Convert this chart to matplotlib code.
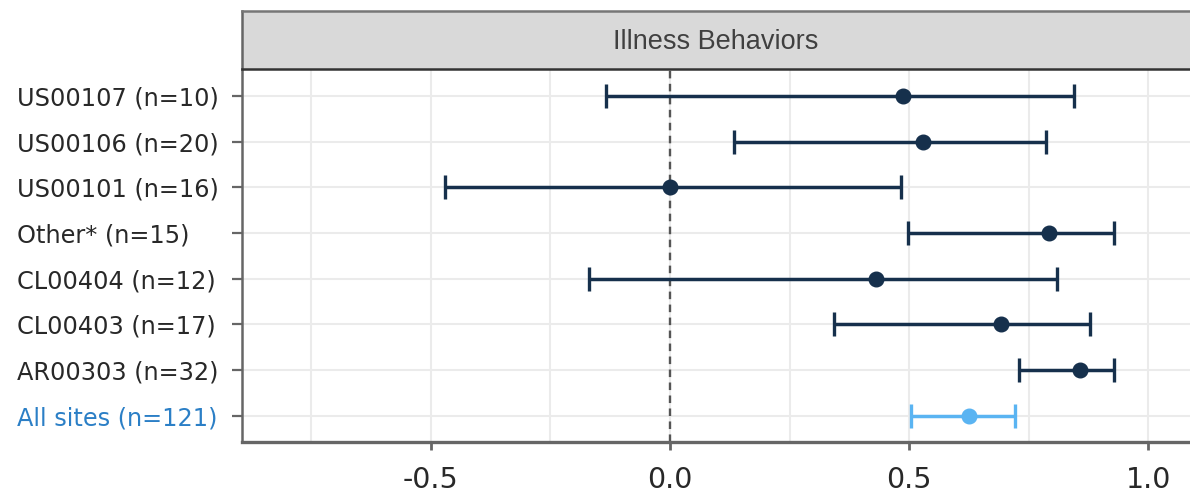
#!/usr/bin/env python3
"""Forest-style plot of site estimates with confidence intervals"""
import matplotlib
matplotlib.use('Agg')
import matplotlib.pyplot as plt
from matplotlib.ticker import MultipleLocator

# Data (top to bottom)
sites = ['US00107 (n=10)', 'US00106 (n=20)', 'US00101 (n=16)', 'Other* (n=15)',
         'CL00404 (n=12)', 'CL00403 (n=17)', 'AR00303 (n=32)', 'All sites (n=121)']
estimate = [0.487, 0.529, 0.0, 0.792, 0.430, 0.693, 0.858, 0.625]
lower = [-0.134, 0.134, -0.470, 0.498, -0.169, 0.343, 0.730, 0.503]
upper = [0.844, 0.785, 0.484, 0.929, 0.808, 0.879, 0.929, 0.721]
panel_title = 'Illness Behaviors'

dark = '#16304c'
light = '#5ab4f2'
label_blue = '#2b7fc6'
spine_col = '#666666'

W, H = 1190, 492
fig = plt.figure(figsize=(W / 100, H / 100), dpi=100)

# main panel
ax = fig.add_axes([241.7 / W, 1 - 442 / H, 1 - 241.7 / W, (442 - 69.3) / H])
ax.set_xlim(-0.895, 1.087)
ax.set_ylim(7.57, -0.58)

ax.xaxis.set_major_locator(MultipleLocator(0.5))
ax.xaxis.set_minor_locator(MultipleLocator(0.25))
ax.grid(True, which='both', axis='x', color='#ebebeb', lw=1.5, zorder=0)
ax.grid(True, which='major', axis='y', color='#ebebeb', lw=1.5, zorder=0)
ax.set_axisbelow(True)

ax.axvline(0, color='#555555', lw=1.7, ls=(0, (3.2, 2.3)), zorder=1)

for i in range(len(sites)):
    col = light if i == len(sites) - 1 else dark
    ax.errorbar(estimate[i], i,
                xerr=[[estimate[i] - lower[i]], [upper[i] - estimate[i]]],
                fmt='o', color=col, ms=10.5, lw=2.5, capsize=8.5, capthick=2.4,
                zorder=3)

# labels are left aligned at x ~ 17px
tick_len = 7
label_pad = (241.7 - 17) * 72 / 100 - tick_len
ax.set_yticks(range(len(sites)))
ax.set_yticklabels(sites, fontsize=17.3, family='DejaVu Sans', ha='left')
for lbl in ax.get_yticklabels():
    lbl.set_color(label_blue if lbl.get_text().startswith('All') else '#282828')

ax.set_xticks([-0.5, 0.0, 0.5, 1.0])
ax.set_xticklabels(['-0.5', '0.0', '0.5', '1.0'], fontsize=20.5, color='#282828')
ax.tick_params(axis='y', length=tick_len, width=1.6, color=spine_col, pad=label_pad)
ax.tick_params(axis='x', which='major', length=6, width=2, color=spine_col, pad=11)
ax.tick_params(axis='x', which='minor', length=0)

for s in ['top', 'right']:
    ax.spines[s].set_visible(False)
ax.spines['left'].set_color(spine_col)
ax.spines['left'].set_linewidth(1.8)
ax.spines['bottom'].set_color(spine_col)
ax.spines['bottom'].set_linewidth(2.4)

# strip header
sx = fig.add_axes([241.7 / W, 1 - 69.3 / H, 1 - 241.7 / W, (69.3 - 11) / H])
sx.set_facecolor('#d9d9d9')
sx.set_xticks([])
sx.set_yticks([])
sx.spines['right'].set_visible(False)
sx.spines['top'].set_color('#777777')
sx.spines['top'].set_linewidth(1.8)
sx.spines['bottom'].set_color('#333333')
sx.spines['bottom'].set_linewidth(1.8)
sx.spines['left'].set_color(spine_col)
sx.spines['left'].set_linewidth(1.8)
sx.text(0.5, 0.47, panel_title, transform=sx.transAxes, ha='center', va='center',
        fontsize=19.5, family='Liberation Sans', color='#404040')

fig.savefig('out.png', dpi=100)
